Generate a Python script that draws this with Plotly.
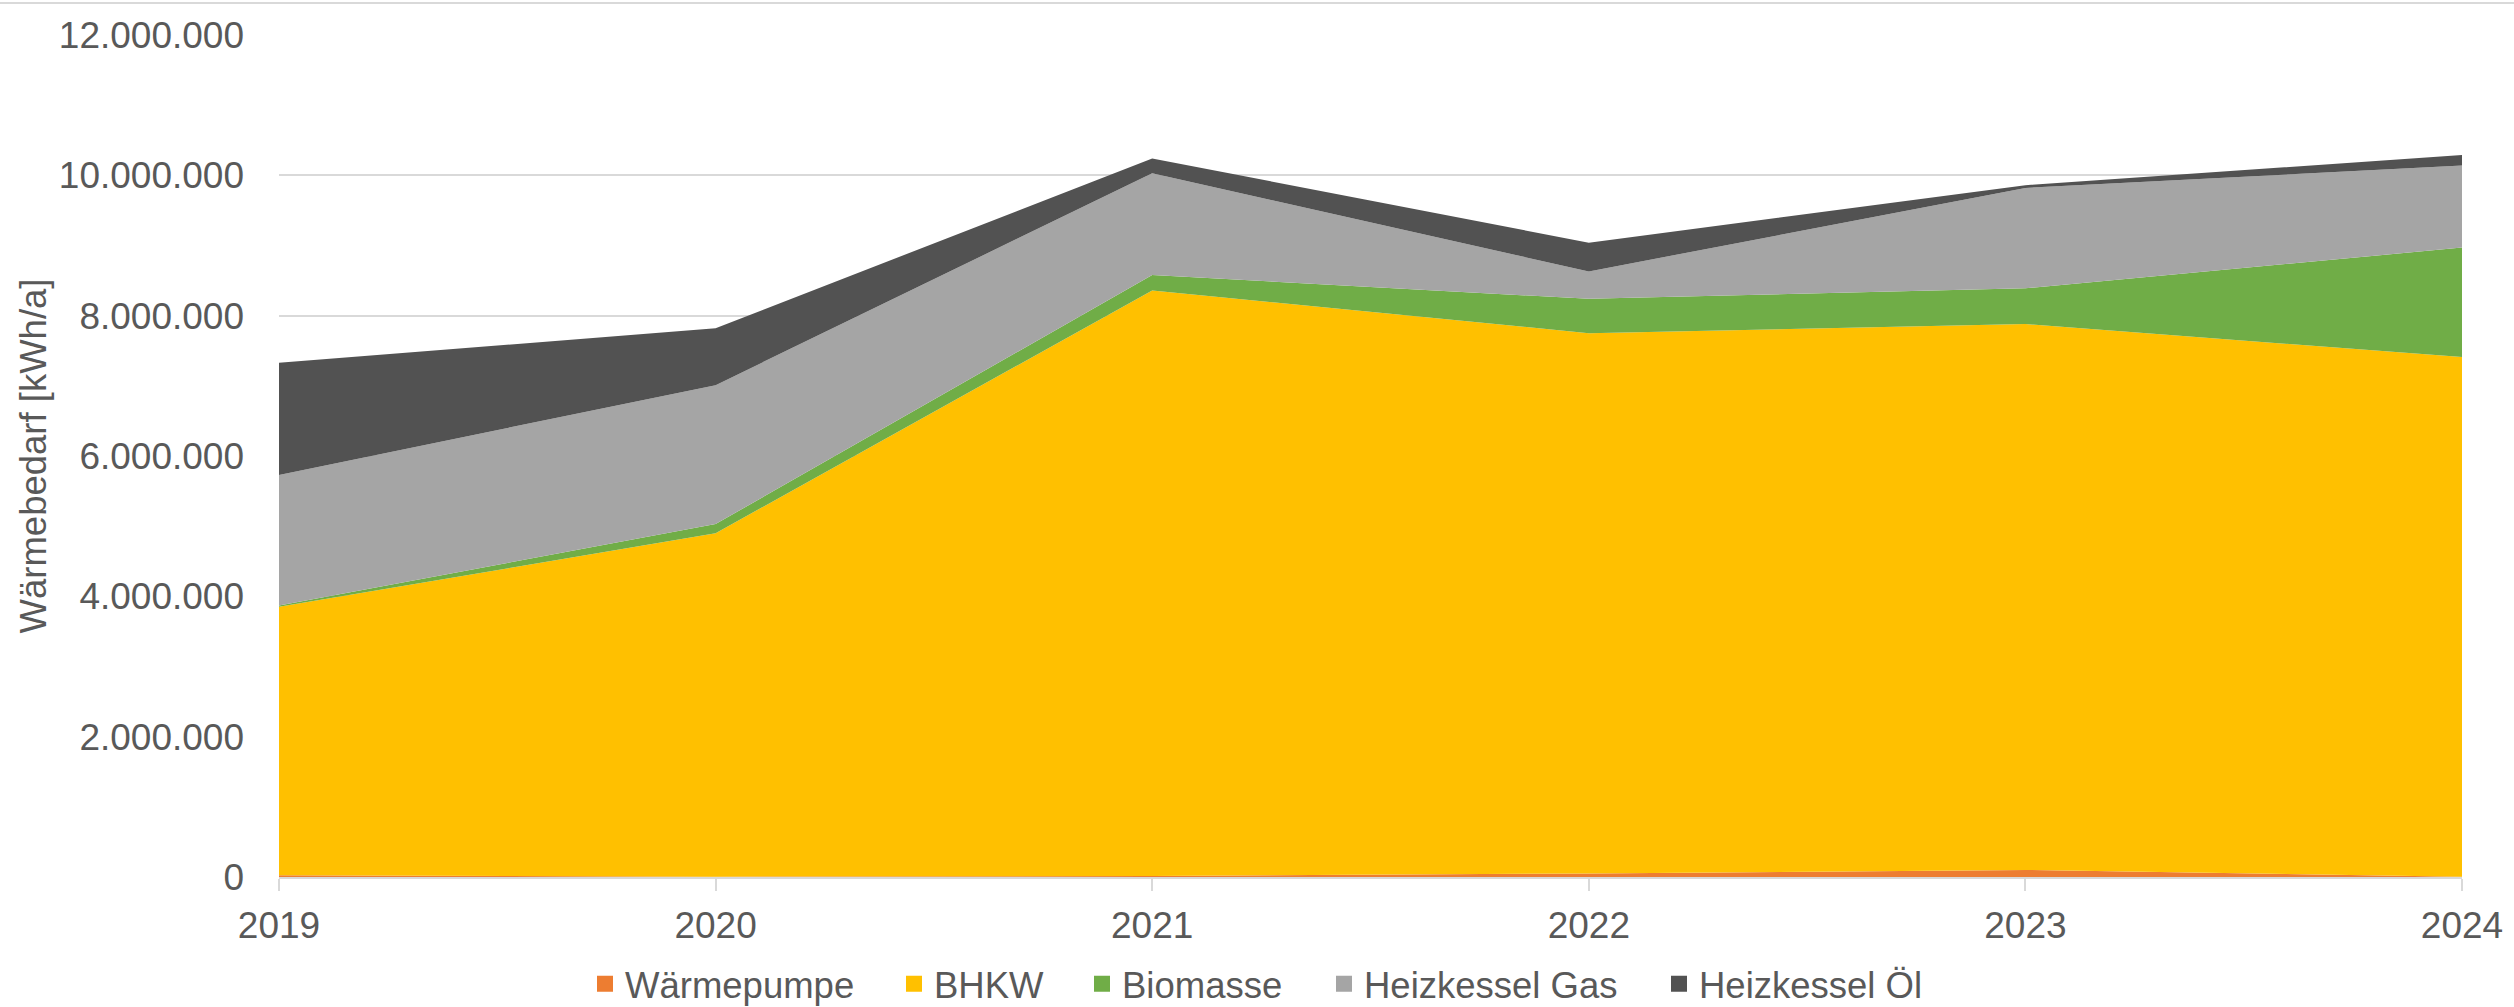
import plotly.graph_objects as go

years = [2019, 2020, 2021, 2022, 2023, 2024]
waermepumpe = [25000, 5000, 15000, 50000, 100000, 5000]
bhkw = [3825000, 4895000, 8345000, 7700000, 7780000, 7405000]
biomasse = [20000, 130000, 220000, 490000, 510000, 1560000]
gas = [1860000, 1980000, 1450000, 390000, 1430000, 1170000]
oel = [1600000, 810000, 210000, 410000, 40000, 150000]

series = [
    ("Wärmepumpe", waermepumpe, "#ED7D31"),
    ("BHKW", bhkw, "#FFC000"),
    ("Biomasse", biomasse, "#70AD47"),
    ("Heizkessel Gas", gas, "#A5A5A5"),
    ("Heizkessel Öl", oel, "#525252"),
]

y_ticks = [0, 2000000, 4000000, 6000000, 8000000, 10000000, 12000000]
y_tick_labels = ["0", "2.000.000", "4.000.000", "6.000.000", "8.000.000", "10.000.000", "12.000.000"]

font_family = "Liberation Sans, Arial, sans-serif"
txt = "#595959"
W, H = 2514, 1007
L, R, T, B = 279, 52, 35, 130
PW = W - L - R
PH = H - T - B

# legend text start positions (pixels) for each entry
legend_text_x = [627, 936, 1124, 1366, 1701]
legend_center_y = 984

fig = go.Figure()
legend_layouts = {}
for i, (name, vals, col) in enumerate(series):
    fig.add_trace(go.Scatter(
        x=years, y=vals, name=name, mode="lines",
        stackgroup="one", line=dict(width=0, color=col),
        fillcolor=col, showlegend=False,
    ))
    lid = "legend" if i == 0 else f"legend{i + 1}"
    fig.add_trace(go.Scatter(
        x=[None], y=[None], name=name, mode="markers",
        marker=dict(symbol="square", size=17, color=col),
        showlegend=True, legend=lid,
    ))
    legend_layouts[lid] = dict(
        xref="container", yref="container", orientation="h",
        x=(legend_text_x[i] - 42) / W, xanchor="left",
        y=1 - legend_center_y / H, yanchor="middle",
        font=dict(size=36.5, color=txt, family=font_family),
        bgcolor="rgba(0,0,0,0)", borderwidth=0,
    )

fig.update_layout(
    width=W, height=H,
    margin=dict(l=L, r=R, t=T, b=B, pad=0),
    paper_bgcolor="white", plot_bgcolor="white",
    font=dict(family=font_family, size=37, color=txt),
    showlegend=True,
    xaxis=dict(range=[2019, 2024], tickvals=years, ticktext=[str(y) for y in years],
               showgrid=False, showline=True, linecolor="#D9D9D9", linewidth=2,
               ticks="outside", ticklen=12, tickcolor="#D9D9D9", tickwidth=2,
               ticklabelstandoff=3,
               tickfont=dict(size=37, color=txt), zeroline=False, automargin=False),
    yaxis=dict(range=[0, 12000000], tickvals=y_ticks, ticktext=y_tick_labels,
               showgrid=True, gridcolor="#D9D9D9", gridwidth=2,
               zeroline=False, showline=False, ticks="",
               ticklabelstandoff=34, automargin=False,
               tickfont=dict(size=37, color=txt),
               title=dict(text="Wärmebedarf [kWh/a]", font=dict(size=36.5, color=txt), standoff=1)),
    shapes=[dict(type="line", xref="paper", yref="paper",
                 x0=-L / PW, x1=(W - L) / PW,
                 y0=(H - B - 3) / PH, y1=(H - B - 3) / PH,
                 line=dict(color="#D9D9D9", width=2))],
    **legend_layouts,
)

fig.write_html("out.html", config={"displayModeBar": False},
               post_script="document.body.style.margin='0';document.body.style.padding='0';")
